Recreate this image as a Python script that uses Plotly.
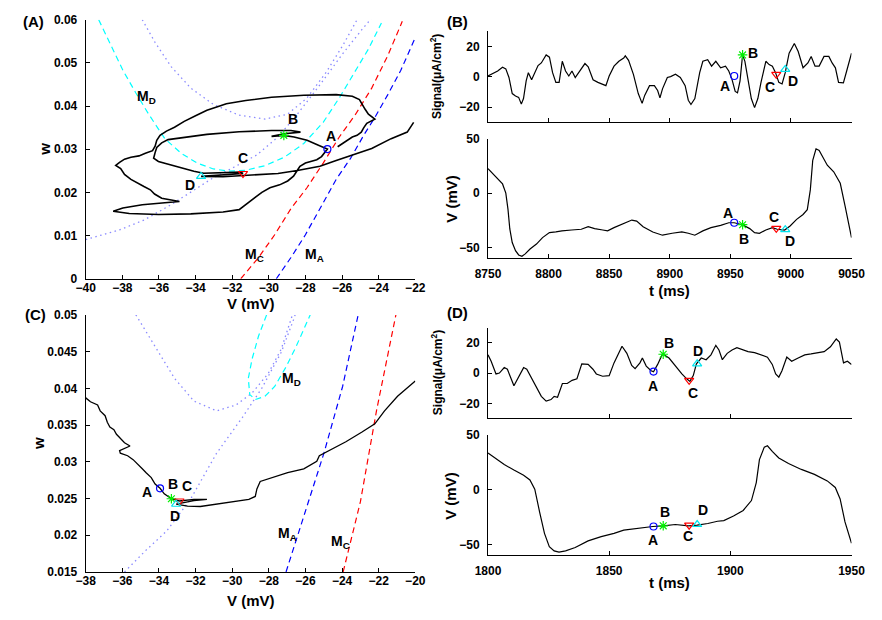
import plotly.graph_objects as go

W, H = 882, 620
FONT = "Liberation Sans"

# ---------------- Panel A: (V, w) phase plane, 8750-9050 ms ----------------
A_traj = [
    (-26.24, 0.03057), (-25.97, 0.03132), (-25.71, 0.03192), (-25.44, 0.03283), (-25.18, 0.03321),
    (-24.95, 0.03396), (-24.82, 0.03494), (-24.65, 0.0360), (-24.21, 0.03698), (-24.56, 0.03811),
    (-24.74, 0.03925), (-24.91, 0.04053), (-25.05, 0.04151), (-25.44, 0.04226), (-26.32, 0.04264),
    (-28.09, 0.04249), (-29.85, 0.04204), (-31.26, 0.04128), (-32.32, 0.04053), (-32.68, 0.0400),
    (-33.38, 0.03902), (-34.00, 0.03774), (-34.62, 0.03645), (-35.15, 0.03509), (-35.59, 0.03419),
    (-35.94, 0.03321), (-36.12, 0.03208), (-36.21, 0.03072), (-36.35, 0.02966), (-36.74, 0.02906),
    (-37.09, 0.02845), (-37.53, 0.02815), (-37.88, 0.02770), (-38.15, 0.02694), (-38.36, 0.02626),
    (-38.09, 0.02551), (-37.88, 0.02415), (-37.53, 0.02302), (-37.18, 0.02211), (-36.82, 0.02136),
    (-36.47, 0.02060), (-36.24, 0.01962), (-35.85, 0.01864), (-34.88, 0.01789), (-35.68, 0.01758),
    (-36.91, 0.01713), (-37.97, 0.01638), (-38.50, 0.01562), (-37.62, 0.01509), (-36.03, 0.01487),
    (-34.26, 0.01502), (-32.50, 0.01547), (-31.62, 0.01600), (-31.18, 0.01736), (-30.82, 0.01864),
    (-30.38, 0.02000), (-29.94, 0.02106), (-29.41, 0.02174), (-28.97, 0.02264), (-28.65, 0.02377),
    (-28.44, 0.02513), (-28.30, 0.02604), (-28.00, 0.02679), (-27.38, 0.02755), (-27.12, 0.02830),
    (-26.94, 0.02936), (-26.80, 0.03004), (-27.29, 0.03094), (-27.91, 0.03208), (-28.62, 0.03283),
    (-29.18, 0.03320), (-29.85, 0.03298), (-29.15, 0.03358), (-28.27, 0.03396), (-28.79, 0.03434),
    (-29.85, 0.03434), (-31.62, 0.03404), (-33.38, 0.03343), (-34.62, 0.03283), (-35.50, 0.03223),
    (-35.85, 0.03147), (-36.12, 0.03042), (-36.21, 0.02921), (-36.29, 0.02792), (-36.03, 0.02717),
    (-35.41, 0.02642), (-34.71, 0.02566), (-34.09, 0.02491), (-33.56, 0.02445), (-31.53, 0.02468),
    (-31.41, 0.02438), (-32.50, 0.02400), (-33.70, 0.02370), (-32.50, 0.02362), (-30.74, 0.02400),
    (-29.50, 0.02438), (-28.44, 0.02506), (-27.21, 0.02604), (-26.32, 0.02740), (-25.44, 0.02868),
    (-24.38, 0.03019), (-23.32, 0.03245), (-22.44, 0.03396), (-22.09, 0.03623),
]
A_MA = [(-29.59, 0.0), (-28.79, 0.00491), (-28.00, 0.01019), (-27.21, 0.01623), (-26.32, 0.02302),
        (-25.53, 0.02792), (-24.82, 0.03321), (-24.21, 0.03736), (-23.50, 0.04264), (-22.79, 0.0483),
        (-22.00, 0.05585)]
A_MC = [(-31.53, 0.0), (-30.56, 0.00491), (-29.68, 0.01019), (-28.79, 0.01623), (-27.91, 0.02113),
        (-27.03, 0.02679), (-26.15, 0.03283), (-25.26, 0.03811), (-24.38, 0.04415), (-23.50, 0.0517),
        (-22.71, 0.05962)]
A_MD = [(-39.29, 0.06), (-38.68, 0.05472), (-37.97, 0.0483), (-37.26, 0.04302), (-36.56, 0.03811),
        (-35.68, 0.03245), (-34.79, 0.02906), (-33.91, 0.02679), (-33.03, 0.02543), (-32.15, 0.02491),
        (-31.26, 0.02513), (-30.21, 0.02619), (-29.15, 0.02815), (-28.09, 0.03132), (-27.03, 0.03623),
        (-26.15, 0.04189), (-25.26, 0.0483), (-24.56, 0.05321), (-23.85, 0.05925)]
A_dot1 = [(-36.91, 0.06), (-36.21, 0.05472), (-35.32, 0.04906), (-34.26, 0.04415), (-33.03, 0.04038),
          (-31.62, 0.03789), (-30.21, 0.03698), (-28.97, 0.03811), (-27.91, 0.04189), (-26.85, 0.04792),
          (-25.97, 0.05396), (-25.18, 0.06)]
A_dot2 = [(-40.0, 0.00906), (-38.15, 0.01132), (-36.82, 0.01358), (-35.41, 0.01698), (-34.0, 0.02075),
          (-33.12, 0.02317), (-31.88, 0.02589), (-30.65, 0.02868), (-29.5, 0.03283), (-28.44, 0.03811),
          (-27.21, 0.04491), (-25.97, 0.05208), (-24.91, 0.05774), (-24.38, 0.06038)]
A_marks = {"A": (-26.80, 0.03004), "B": (-29.18, 0.0332), "C": (-31.41, 0.02438), "D": (-33.70, 0.0237)}
A_labels = {"A": (-26.6, 0.0330), "B": (-28.7, 0.0370), "C": (-31.4, 0.0279), "D": (-34.3, 0.0217),
            "M<sub>D</sub>": (-36.7, 0.0420), "M<sub>C</sub>": (-30.8, 0.0055), "M<sub>A</sub>": (-27.5, 0.0055)}

# ---------------- Panel B: signal and V, 8750-9050 ms ----------------
B_signal = [
    (8750, 0.6), (8752.7, 1.7), (8755.3, 2.8), (8758, 3.9), (8762, 6.4), (8764.7, 5.3), (8767.3, -0.4),
    (8770, -11), (8772.7, -12.6), (8775.3, -13.5), (8777.5, -18), (8779.3, -14.3), (8781.5, -2.6),
    (8783.3, 2.8), (8786, -1.9), (8788.7, 2.8), (8791.3, 7.5), (8794, 9.2), (8798, 14.5), (8800.7, 13),
    (8803.3, 2.8), (8806, -3.6), (8808.7, -3.6), (8811.3, 10.3), (8814, 3.9), (8816.7, 0.6), (8819.3, 3.9),
    (8822, -0.4), (8826, 3.9), (8830, 8.8), (8832.7, 6.6), (8836.7, -1.9), (8840.7, -3.6), (8844.7, -4.7),
    (8847.3, -5.8), (8850, 0.6), (8854, 7.1), (8858, 10.3), (8862, 12.4), (8863.3, 13.9), (8866, 10.9),
    (8870, 1.7), (8874, -11), (8877.2, -17.5), (8879.3, -12.2), (8883.3, -5.8), (8887.3, -5.8), (8890, -9),
    (8891.9, -13.9), (8894, -7.9), (8898, -0.4), (8900.7, 0.2), (8904.7, 1.7), (8908.7, -0.4),
    (8912.7, -5.8), (8915.3, -15.4), (8917.5, -18.2), (8920.7, -14.3), (8924.7, 2.8), (8927.3, 10.3),
    (8931.3, 11.3), (8934.5, 7.1), (8938, 10.3), (8942, 6), (8946, 7.1), (8948.7, 3.9), (8951.3, -1.5),
    (8954, -9.6), (8955.9, -10.5), (8958, -2.6), (8960.1, 14.5), (8962, 10.3), (8964.7, -3.6),
    (8967.3, -14.3), (8970, -20.3), (8972.7, -14.3), (8975.3, -3.6), (8979.3, 10.3), (8982, 8.1),
    (8984.7, 7.1), (8987.3, 2.8), (8990, -3.6), (8992.7, -4.7), (8995.3, 2.8), (8998.5, 15.6),
    (9002.8, 22), (9006, 16.7), (9010, 6), (9014, 9.2), (9016.7, 13.5), (9019.9, 7.1), (9023.3, 7.1),
    (9027.3, 13.5), (9031.3, 13.5), (9034, 9.2), (9036.7, 6), (9039.3, -3.6), (9043.3, -4), (9046, 3.9),
    (9050, 15.6),
]
B_V = [
    (8750, 22.7), (8754, 18.2), (8758, 13.6), (8762, 8.5), (8764.7, 0), (8766.5, -15), (8768, -33),
    (8770, -45.5), (8772.7, -53), (8775.3, -57), (8778, -58.2), (8780.7, -56), (8784.7, -51.5),
    (8790, -47), (8795, -41), (8800.7, -36.4), (8806, -35.8), (8811, -34.8), (8819, -34), (8827, -33.3),
    (8832.7, -30.9), (8838, -32.7), (8844.7, -34), (8848.7, -34.8), (8854, -31.8), (8862, -27.9),
    (8868.7, -24.8), (8872.7, -25.8), (8878, -30.9), (8886, -35.8), (8894, -38.8), (8902, -37),
    (8910, -35.8), (8915.3, -37), (8920.7, -38.8), (8927.3, -34.8), (8934, -31.8), (8942, -29.7),
    (8948.7, -27.3), (8953.2, -27.3), (8960, -29.1), (8966, -32.7), (8970, -36.4), (8974, -37),
    (8979.3, -34), (8984.7, -31.8), (8988.7, -33.3), (8994.8, -34), (8999.3, -30.3), (9004.7, -24.2),
    (9010, -19.7), (9013.5, -15.2), (9016, 3), (9018, 30.3), (9020.7, 40.9), (9023.3, 39.4), (9026, 33.3),
    (9030, 25.8), (9035.3, 19.7), (9040.7, 9.1), (9044.7, -12), (9048.7, -36.4), (9050, -41),
]
B_mark_t = {"A": 8953.2, "B": 8960.1, "C": 8987.9, "D": 8995.3}
B_mark_sig = {"A": 0.6, "B": 14.5, "C": 1.7, "D": 4.9}
B_mark_V = {"A": -27.3, "B": -29.1, "C": -32.5, "D": -33.7}
B_sig_labels = {"A": (8945.2, -5.8), "B": (8968.7, 15.6), "C": (8982.5, -6.8), "D": (9002, -2.6)}
B_V_labels = {"A": (8947.9, -18.2), "B": (8961.2, -42.4), "C": (8986, -21.8), "D": (8999.3, -43.9)}

# ---------------- Panel C: (V, w) phase plane, 1800-1950 ms ----------------
C_traj = [
    (-38.0, 0.0387), (-37.74, 0.03817), (-37.35, 0.03773), (-37.21, 0.03693), (-36.94, 0.03627),
    (-36.82, 0.03538), (-36.68, 0.03472), (-36.46, 0.03436), (-36.32, 0.03374), (-36.06, 0.03303),
    (-35.88, 0.03259), (-35.58, 0.03215), (-36.15, 0.03153), (-36.11, 0.03117), (-35.71, 0.03082),
    (-35.41, 0.03029), (-35.12, 0.02962), (-34.91, 0.02904), (-34.70, 0.02851), (-34.42, 0.02785),
    (-34.21, 0.02696), (-33.94, 0.02639), (-33.71, 0.02563), (-33.32, 0.02497), (-32.88, 0.02466),
    (-32.09, 0.02488), (-31.38, 0.02488), (-32.09, 0.0247), (-33.06, 0.02422), (-32.44, 0.02395),
    (-31.74, 0.02391), (-31.03, 0.02417), (-29.97, 0.02453), (-29.09, 0.02488), (-28.74, 0.02528),
    (-28.65, 0.0263), (-28.47, 0.02732), (-27.85, 0.02785), (-26.97, 0.02851), (-26.09, 0.02904),
    (-25.38, 0.03006), (-25.24, 0.03082), (-24.59, 0.0317), (-23.79, 0.03272), (-22.91, 0.03405),
    (-22.21, 0.03516), (-21.68, 0.03693), (-20.97, 0.03892), (-20.0, 0.04101),
]
C_MA = [(-27.06, 0.015), (-26.0, 0.0232), (-24.99, 0.03117), (-23.97, 0.04025), (-23.12, 0.05)]
C_MC = [(-23.94, 0.015), (-23.0, 0.02453), (-22.12, 0.03693), (-21.06, 0.05)]
C_MD = [(-28.12, 0.05), (-28.56, 0.04712), (-28.91, 0.04402), (-29.12, 0.04136), (-29.04, 0.03915),
        (-28.74, 0.03848), (-28.21, 0.03892), (-27.68, 0.04025), (-27.06, 0.04291), (-26.53, 0.04557),
        (-25.74, 0.05)]
C_dot1 = [(-35.26, 0.05), (-34.21, 0.04579), (-33.15, 0.04136), (-32.09, 0.03826), (-30.85, 0.03693),
          (-29.79, 0.03773), (-28.91, 0.03937), (-28.03, 0.04203), (-27.32, 0.04535), (-26.71, 0.05)]
C_dot2 = [(-35.88, 0.015), (-34.74, 0.01788), (-33.59, 0.02054), (-32.26, 0.02497), (-30.85, 0.03117),
          (-29.44, 0.03605), (-28.38, 0.04003), (-27.32, 0.04491), (-26.65, 0.04934), (-26.5, 0.0505)]
C_marks = {"A": (-33.94, 0.02639), "B": (-33.32, 0.02497), "C": (-32.88, 0.02466), "D": (-33.06, 0.02422)}
C_labels = {"A": (-34.65, 0.02586), "B": (-33.24, 0.02696), "C": (-32.48, 0.02674), "D": (-33.15, 0.02266),
            "M<sub>D</sub>": (-26.75, 0.0413), "M<sub>A</sub>": (-27.0, 0.0202), "M<sub>C</sub>": (-24.1, 0.0191)}

# ---------------- Panel D: signal and V, 1800-1950 ms ----------------
D_signal = [
    (1800, 12), (1801.3, 7.8), (1803.3, -0.6), (1804.7, 0), (1806.7, 3.6), (1808, 2.5), (1810.7, -8.4),
    (1812.7, -2.7), (1814.7, 3.6), (1816, 2.5), (1818, -3.8), (1820, -10.1), (1822, -15.4), (1824, -18.5),
    (1826, -17.5), (1827.3, -15.4), (1828.7, -16), (1830.7, -6.9), (1832.7, -6.9), (1834.7, -4.8),
    (1836.7, -3.8), (1838.7, 6.1), (1841.3, 5.7), (1843.3, 2.5), (1844.7, -0.6), (1847.3, -2.1),
    (1850, -1.7), (1852, 6.7), (1854, 13), (1855.3, 17.7), (1857.3, 13), (1859.3, 5), (1860.7, 2.9),
    (1862.7, 6.7), (1863.7, 9.9), (1865.3, 4.6), (1867.3, 1.5), (1868.3, 0.8), (1870, 5.7), (1872, 12.6),
    (1874.7, 9.9), (1877.3, 4.6), (1880, -0.6), (1882, -3.8), (1883.3, -5.5), (1884.7, -1.7), (1886, 6.1),
    (1888, 9.9), (1890, 8.8), (1892, 12), (1894, 18.3), (1895.3, 15.2), (1896.7, 8.8), (1898.7, 13),
    (1900.7, 15.2), (1902.7, 16.8), (1904.7, 15.6), (1907.3, 14.1), (1910, 13.5), (1912.7, 12),
    (1915.3, 10.5), (1917.3, 5.7), (1918.7, -0.6), (1920, -2.7), (1921.3, 1.5), (1923.3, 10.5),
    (1925.3, 7.8), (1928, 9.9), (1930.7, 12), (1933.3, 12.6), (1936, 13.5), (1938.7, 14.1), (1941.3, 17.3),
    (1943.7, 22.5), (1945, 20.4), (1946.7, 6.7), (1948.3, 7.8), (1950, 5.7),
]
D_V = [
    (1800, 33.6), (1802.7, 29.1), (1806.7, 23.1), (1810.7, 18), (1814.7, 13.2), (1817.3, 9), (1819.3, 0.6),
    (1821.3, -20.4), (1823.3, -39.9), (1825.3, -52), (1827.3, -55.9), (1829.3, -57), (1832, -55.9),
    (1836, -52.9), (1841.3, -46.8), (1846.7, -42.9), (1852, -39.9), (1856, -36.9), (1861.3, -35.4),
    (1868, -33.6), (1872.3, -33), (1877.3, -31.8), (1882.7, -33), (1886.3, -32.4), (1890.7, -30.9),
    (1894.7, -28.8), (1897.3, -28.2), (1901.3, -24), (1905.3, -18.9), (1908.7, -9.9), (1910.7, 6.6),
    (1912, 27.6), (1914, 39), (1915.3, 40.2), (1917.3, 35.1), (1920, 29.1), (1924, 24), (1929.3, 18.6),
    (1934.7, 14.1), (1940, 8.1), (1943.3, 2.1), (1945.3, -8.4), (1947.3, -29.4), (1950, -48.9),
]
D_mark_t = {"A": 1868.3, "B": 1872.3, "C": 1883.0, "D": 1886.3}
D_mark_sig = {"A": 1.0, "B": 12.4, "C": -4.8, "D": 6.1}
D_mark_V = {"A": -33.6, "B": -33.0, "C": -32.4, "D": -31.8}
D_sig_labels = {"A": (1868, -8.4), "B": (1874.7, 19.8), "C": (1884.7, -13.3), "D": (1886.7, 14.7)}
D_V_labels = {"A": (1868, -45.9), "B": (1873, -20.4), "C": (1882.4, -42), "D": (1888.7, -18.9)}

# ---------------- styling ----------------
MARK_STYLE = {
    "A": dict(symbol="circle-open", color="#0000ff", size=7),
    "B": dict(symbol="asterisk-open", color="#00ee00", size=8),
    "C": dict(symbol="triangle-down-open", color="#ff0000", size=8),
    "D": dict(symbol="triangle-up-open", color="#00e5ee", size=8),
}
DOT_COLOR = "#8a8aff"
DOTTED = "1.5px,3.5px"
DASHED = "6px,4px"


def px_x(p):
    return p / W


def px_y(p):
    return 1 - p / H


def unzip(pairs):
    return [p[0] for p in pairs], [p[1] for p in pairs]


fig = go.Figure()


def add_line(pairs, xa, ya, color, dash="solid", width=1.0):
    x, y = unzip(pairs)
    fig.add_trace(go.Scatter(x=x, y=y, xaxis=xa, yaxis=ya, mode="lines",
                             line=dict(color=color, dash=dash, width=width),
                             showlegend=False, hoverinfo="skip"))


def add_marks(points, xa, ya):
    for k, (x, y) in points.items():
        st = MARK_STYLE[k]
        fig.add_trace(go.Scatter(x=[x], y=[y], xaxis=xa, yaxis=ya, mode="markers",
                                 marker=dict(symbol=st["symbol"], size=st["size"], color=st["color"],
                                             line=dict(color=st["color"], width=1.2)),
                                 showlegend=False, hoverinfo="skip", cliponaxis=False))


annotations = []


def add_labels(labels, xa, ya, size=14):
    for txt, (x, y) in labels.items():
        annotations.append(dict(x=x, y=y, xref=xa, yref=ya, text=txt, showarrow=False,
                                font=dict(family=FONT, size=size, color="black", weight="bold")))


def paper_text(txt, cx, cy, size=15, angle=0):
    annotations.append(dict(x=px_x(cx), y=px_y(cy), xref="paper", yref="paper", text=txt,
                            showarrow=False, textangle=angle, xanchor="center", yanchor="middle",
                            font=dict(family=FONT, size=size, color="black", weight="bold")))


# Panel A
add_line(A_dot1, "x", "y", DOT_COLOR, DOTTED, 1.3)
add_line(A_dot2, "x", "y", DOT_COLOR, DOTTED, 1.3)
add_line(A_MD, "x", "y", "#00ffff", DASHED, 1.2)
add_line(A_MC, "x", "y", "#ff0000", DASHED, 1.2)
add_line(A_MA, "x", "y", "#0000ff", DASHED, 1.2)
add_line(A_traj, "x", "y", "black", "solid", 1.6)
add_marks(A_marks, "x", "y")
add_labels(A_labels, "x", "y")

# Panel B
add_line(B_signal, "x2", "y2", "black", "solid", 1.2)
add_marks({k: (B_mark_t[k], B_mark_sig[k]) for k in B_mark_t}, "x2", "y2")
add_labels(B_sig_labels, "x2", "y2")
add_line(B_V, "x3", "y3", "black", "solid", 1.2)
add_marks({k: (B_mark_t[k], B_mark_V[k]) for k in B_mark_t}, "x3", "y3")
add_labels(B_V_labels, "x3", "y3")

# Panel C
add_line(C_dot1, "x4", "y4", DOT_COLOR, DOTTED, 1.3)
add_line(C_dot2, "x4", "y4", DOT_COLOR, DOTTED, 1.3)
add_line(C_MD, "x4", "y4", "#00ffff", DASHED, 1.2)
add_line(C_MA, "x4", "y4", "#0000ff", DASHED, 1.2)
add_line(C_MC, "x4", "y4", "#ff0000", DASHED, 1.2)
add_line(C_traj, "x4", "y4", "black", "solid", 1.3)
add_marks(C_marks, "x4", "y4")
add_labels(C_labels, "x4", "y4")

# Panel D
add_line(D_signal, "x5", "y5", "black", "solid", 1.2)
add_marks({k: (D_mark_t[k], D_mark_sig[k]) for k in D_mark_t}, "x5", "y5")
add_labels(D_sig_labels, "x5", "y5")
add_line(D_V, "x6", "y6", "black", "solid", 1.2)
add_marks({k: (D_mark_t[k], D_mark_V[k]) for k in D_mark_t}, "x6", "y6")
add_labels(D_V_labels, "x6", "y6")


def fmt(v):
    s = ("%g" % v)
    return s.replace("-", "\u2212")


def axis(dom, rng, ticks, anchor, labels=True, standoff=3):
    return dict(domain=dom, range=rng, anchor=anchor, showline=True, linecolor="black", linewidth=1,
                mirror=False, ticks="inside", ticklen=4, tickwidth=1, tickcolor="black",
                tickvals=ticks, ticktext=[fmt(t) for t in ticks], showticklabels=labels,
                ticklabelstandoff=standoff, showgrid=False, zeroline=False, fixedrange=True,
                tickfont=dict(family=FONT, size=12, color="black", weight="bold"))


LX = [px_x(75), px_x(415)]
RX = [px_x(490), px_x(865)]
wA = [0, 0.01, 0.02, 0.03, 0.04, 0.05, 0.06]
vA = list(range(-40, -21, 2))
wC = [0.015, 0.02, 0.025, 0.03, 0.035, 0.04, 0.045, 0.05]
vC = list(range(-38, -19, 2))
tB = list(range(8750, 9051, 50))
tD = list(range(1800, 1951, 50))

fig.update_layout(
    width=W, height=H, margin=dict(l=0, r=0, t=0, b=0),
    paper_bgcolor="white", plot_bgcolor="white", showlegend=False,
    font=dict(family=FONT, color="black"),
    xaxis=axis(LX, [-40, -22], vA, "y", standoff=-2),
    yaxis=axis([px_y(278), px_y(13)], [0, 0.06], wA, "x", standoff=5),
    xaxis2=axis(RX, [8750, 9050], tB, "y2", labels=False),
    yaxis2=axis([px_y(118), px_y(25)], [-30, 30], [-20, 0, 20], "x2", standoff=5),
    xaxis3=axis(RX, [8750, 9050], tB, "y3", standoff=4),
    yaxis3=axis([px_y(257), px_y(135)], [-60, 50], [-50, 0, 50], "x3", standoff=5),
    xaxis4=axis(LX, [-38, -20], vC, "y4", standoff=-2),
    yaxis4=axis([px_y(578), px_y(315)], [0.015, 0.05], wC, "x4", standoff=5),
    xaxis5=axis(RX, [1800, 1950], tD, "y5", labels=False),
    yaxis5=axis([px_y(421), px_y(328)], [-30, 30], [-20, 0, 20], "x5", standoff=5),
    xaxis6=axis(RX, [1800, 1950], tD, "y6", standoff=4),
    yaxis6=axis([px_y(561), px_y(438)], [-60, 50], [-50, 0, 50], "x6", standoff=5),
)

# panel letters and axis titles
paper_text("(A)", 21, 15, 15)
paper_text("(B)", 459, 15, 15)
paper_text("(C)", 23, 315, 15)
paper_text("(D)", 459, 313, 15)
paper_text("V (mV)", 245, 303, 15)
paper_text("w", 33, 145, 15, -90)
paper_text("V (mV)", 245, 607, 15)
paper_text("w", 27, 447, 15, -90)
paper_text("Signal(\u03bcA/cm<sup>2</sup>)", 437, 71, 12, -90)
paper_text("V (mV)", 452, 196, 15, -90)
paper_text("t (ms)", 677, 290, 15)
paper_text("Signal(\u03bcA/cm<sup>2</sup>)", 437, 374, 12, -90)
paper_text("V (mV)", 452, 500, 15, -90)
paper_text("t (ms)", 677, 589, 15)

fig.update_layout(annotations=annotations)
fig.write_html("out.html")
